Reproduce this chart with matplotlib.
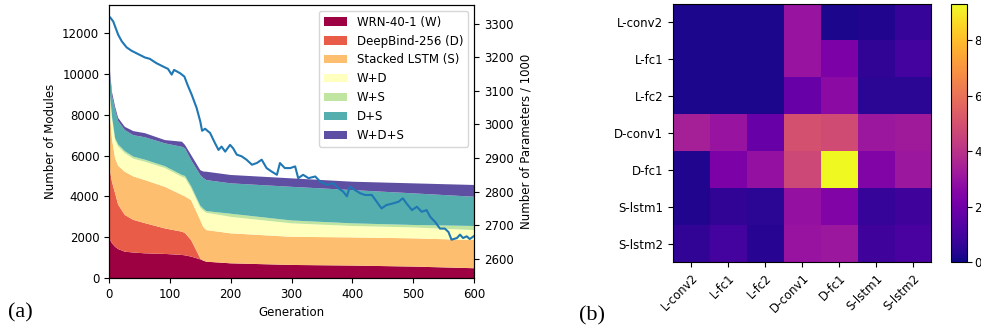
import numpy as np
import matplotlib
matplotlib.use("Agg")
import matplotlib.pyplot as plt

# ---- (a) stacked module counts, cumulative tops ----
gens = [0, 2, 5, 10, 15, 26, 40, 59, 92, 120, 125, 135, 150, 155, 160, 200, 300, 400, 500, 600]
top_w = [1900, 1850, 1700, 1530, 1420, 1290, 1250, 1210, 1180, 1130, 1110, 1050, 915, 850, 800, 720, 640, 610, 560, 480]
top_d = [6500, 5200, 4700, 4160, 3600, 3090, 2850, 2690, 2430, 2270, 2200, 1860, 965, 850, 800, 720, 640, 610, 560, 480]
top_s = [8800, 7800, 6800, 5880, 5500, 5210, 4980, 4800, 4470, 4070, 4000, 3820, 2840, 2500, 2350, 2190, 2020, 1990, 1945, 1860]
top_wd = [9800, 8800, 7800, 6760, 6450, 6120, 5850, 5700, 5390, 4960, 4900, 4395, 3450, 3300, 3200, 3000, 2680, 2550, 2480, 2350]
top_ws = [9900, 8900, 7900, 6860, 6550, 6220, 5950, 5800, 5480, 5050, 5000, 4500, 3550, 3400, 3280, 3150, 2820, 2680, 2600, 2550]
top_ds = [10800, 9800, 8900, 8250, 7700, 7250, 7000, 6900, 6600, 6430, 6350, 5780, 5050, 4900, 4800, 4640, 4470, 4310, 4150, 3985]
top_wds = [11000, 10000, 9100, 8400, 7850, 7410, 7200, 7100, 6760, 6680, 6520, 6030, 5290, 5220, 5210, 5050, 4885, 4720, 4640, 4560]
layer_names = ["WRN-40-1 (W)", "DeepBind-256 (D)", "Stacked LSTM (S)", "W+D", "W+S", "D+S", "W+D+S"]

# parameters / 1000 (right axis)
param_gen = [0, 2, 7, 15, 21, 29, 37, 48, 59, 67, 78, 89, 97, 103, 107, 117, 124, 129, 136, 144,
             150, 153, 158, 163, 166, 174, 180, 185, 191, 199, 204, 210, 218, 226, 235, 243, 251,
             259, 267, 276, 281, 289, 298, 306, 311, 319, 328, 339, 347, 358, 369, 377, 385, 391,
             396, 404, 413, 421, 432, 440, 448, 456, 467, 476, 483, 489, 498, 506, 514, 522, 528,
             536, 544, 552, 558, 563, 572, 577, 582, 588, 593, 600]
param_val = [3321, 3318, 3306, 3267, 3247, 3229, 3219, 3209, 3199, 3195, 3182, 3172, 3165, 3148,
             3162, 3152, 3142, 3118, 3088, 3049, 3009, 2981, 2987, 2979, 2975, 2945, 2924, 2934,
             2919, 2939, 2929, 2910, 2905, 2895, 2880, 2885, 2895, 2870, 2860, 2850, 2885, 2870,
             2870, 2875, 2840, 2850, 2840, 2845, 2830, 2820, 2825, 2810, 2800, 2786, 2815, 2805,
             2795, 2790, 2790, 2770, 2750, 2760, 2765, 2770, 2780, 2765, 2745, 2755, 2740, 2745,
             2725, 2710, 2690, 2690, 2680, 2657, 2662, 2672, 2662, 2667, 2659, 2668]

# ---- (b) heatmap ----
layer_labels = ["L-conv2", "L-fc1", "L-fc2", "D-conv1", "D-fc1", "S-lstm1", "S-lstm2"]
heat = [
    [0.2, 0.2, 0.2, 3.0, 0.2, 0.3, 0.7],
    [0.2, 0.2, 0.2, 3.0, 2.3, 0.6, 1.0],
    [0.2, 0.2, 0.2, 1.8, 2.7, 0.5, 0.5],
    [3.4, 3.0, 1.8, 5.0, 4.8, 3.1, 3.2],
    [0.3, 2.3, 2.9, 4.7, 9.3, 2.4, 3.1],
    [0.3, 0.6, 0.5, 2.9, 2.4, 0.7, 0.9],
    [0.6, 1.0, 0.4, 3.0, 3.1, 0.9, 1.1],
]

plt.rcParams["font.size"] = 8.5
fig = plt.figure(figsize=(9.81, 3.28), dpi=100)

ax = fig.add_axes([0.1111, 0.1524, 0.3721, 0.8323])
tops = np.array([top_w, top_d, top_s, top_wd, top_ws, top_ds, top_wds], dtype=float)
layers = np.diff(np.vstack([np.zeros(len(gens)), tops]), axis=0)
colors = plt.cm.Spectral(np.linspace(0, 1, 7))
ax.stackplot(gens, layers, labels=layer_names, colors=colors, linewidth=0)
ax.set_xlim(0, 600)
ax.set_ylim(0, 13380)
ax.set_xlabel("Generation")
ax.set_ylabel("Number of Modules")
ax.legend(loc="upper right", fontsize=8.5)

ax2 = ax.twinx()
ax2.plot(param_gen, param_val, color="#1f77b4", lw=1.5)
ax2.set_ylim(2543, 3355)
ax2.set_ylabel("Number of Parameters / 1000")

hax = fig.add_axes([0.686, 0.2012, 0.263, 0.7866])
im = hax.imshow(heat, cmap="plasma", vmin=0, vmax=9.3, aspect="auto")
hax.set_xticks(range(7))
hax.set_yticks(range(7))
hax.set_xticklabels(layer_labels, rotation=45, ha="right", rotation_mode="anchor")
hax.set_yticklabels(layer_labels)
cax = fig.add_axes([0.9691, 0.2012, 0.0163, 0.7866])
cb = fig.colorbar(im, cax=cax)
cb.set_ticks([0, 2, 4, 6, 8])
cax.tick_params(labelsize=8.5, pad=2)

fig.text(0.021, 0.047, "(a)", family="Liberation Serif", fontsize=16, va="center", ha="center")
fig.text(0.603, 0.037, "(b)", family="Liberation Serif", fontsize=16, va="center", ha="center")

plt.savefig("out.png", dpi=100)
